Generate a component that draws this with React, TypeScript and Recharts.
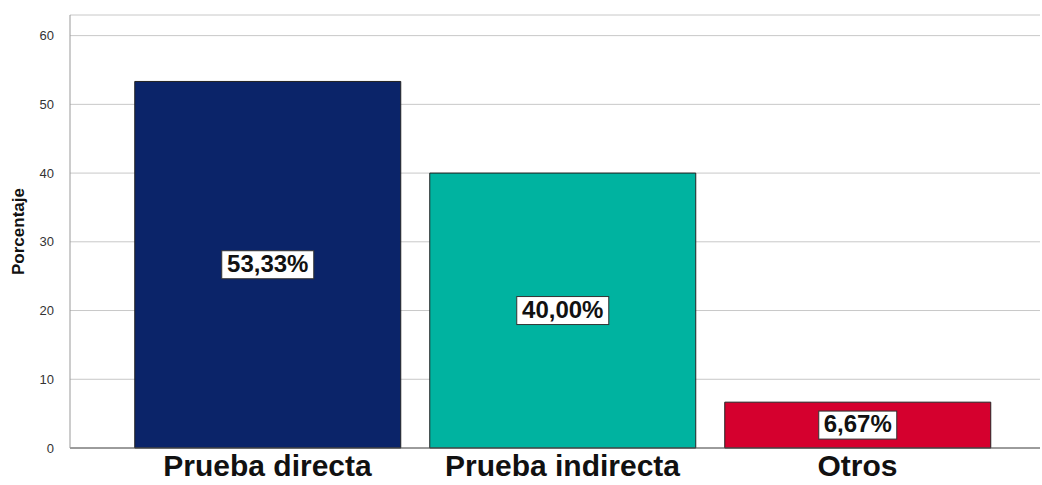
import React from "react";
import {
  Bar,
  BarChart,
  CartesianGrid,
  Cell,
  LabelList,
  XAxis,
  YAxis,
} from "recharts";

const categories = ["Prueba directa", "Prueba indirecta", "Otros"];
const percentages = [53.33, 40.0, 6.67];
const barColors = ["#0b2469", "#00b3a0", "#d5002e"];
const yTicks = [0, 10, 20, 30, 40, 50, 60];

const data = categories.map((name, i) => ({ name, value: percentages[i] }));

function ValueLabel(props: any) {
  const { x, y, width, height, value } = props;
  const cx = x + width / 2;
  const cy = y + height / 2;
  const text = value.toFixed(2).replace(".", ",") + "%";
  const w = 14 * text.length + 8;
  const h = 28;
  return (
    <g>
      <rect
        x={cx - w / 2}
        y={cy - h / 2}
        width={w}
        height={h}
        fill="#ffffff"
        stroke="#333333"
        strokeWidth={1}
      />
      <text
        x={cx}
        y={cy + 1}
        textAnchor="middle"
        dominantBaseline="middle"
        fontSize={24}
        fontWeight="bold"
        fontFamily="'Liberation Sans', Arial, sans-serif"
        fill="#111111"
      >
        {text}
      </text>
    </g>
  );
}

export default function App() {
  return (
    <div style={{ position: "absolute", left: 0, top: 0, background: "#fff" }}>
      <BarChart
        width={1042}
        height={485}
        data={data}
        margin={{ top: 15, right: 2, left: 0, bottom: 0 }}
        barCategoryGap="5%"
      >
        <CartesianGrid vertical={false} stroke="#c8c8c8" />
        <XAxis
          dataKey="name"
          height={37}
          padding={{ left: 50, right: 35 }}
          axisLine={{ stroke: "#555555" }}
          tickLine={false}
          tickMargin={1}
          tick={{
            fontSize: 30,
            fontWeight: "bold",
            fill: "#111111",
            fontFamily: "'Liberation Sans', Arial, sans-serif",
          }}
        />
        <YAxis
          width={70}
          domain={[0, 63]}
          ticks={yTicks}
          axisLine={{ stroke: "#999999" }}
          tickLine={false}
          tickMargin={10}
          tick={{
            fontSize: 13,
            fill: "#333333",
            fontFamily: "'Liberation Sans', Arial, sans-serif",
          }}
          label={{
            value: "Porcentaje",
            angle: -90,
            position: "insideLeft",
            offset: 18,
            style: {
              fontSize: 17,
              fontWeight: "bold",
              fill: "#111111",
              textAnchor: "middle",
              fontFamily: "'Liberation Sans', Arial, sans-serif",
            },
          }}
        />
        <Bar
          dataKey="value"
          isAnimationActive={false}
          stroke="#222222"
          strokeWidth={1}
        >
          {data.map((d, i) => (
            <Cell key={d.name} fill={barColors[i]} />
          ))}
          <LabelList dataKey="value" content={ValueLabel} />
        </Bar>
      </BarChart>
    </div>
  );
}
